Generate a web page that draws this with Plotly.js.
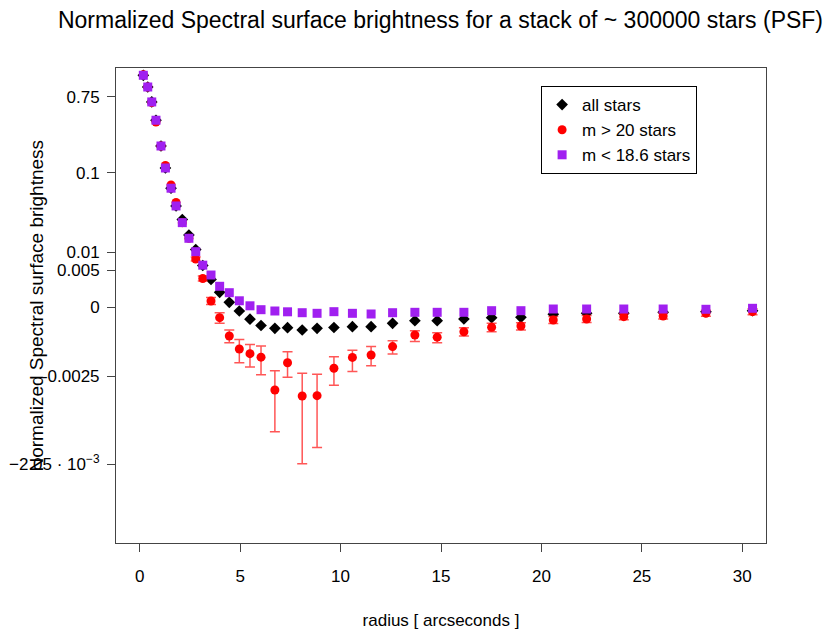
<!DOCTYPE html>
<html>
<head>
<meta charset="utf-8">
<script src="https://cdn.plot.ly/plotly-3.0.1.min.js"></script>
<style>html,body{margin:0;padding:0;background:#fff;}#chart{width:828px;height:632px;}</style>
</head>
<body>
<div id="chart"></div>
<script>
// ---- data ----
const radius = [0.18,0.40,0.60,0.81,1.06,1.28,1.56,1.81,2.12,2.45,2.79,3.14,3.55,3.98,4.46,4.96,5.49,6.04,6.73,7.36,8.09,8.83,9.67,10.59,11.52,12.59,13.70,14.81,16.14,17.52,18.98,20.59,22.25,24.10,26.06,28.19,30.51];
const allStars = [1.323,0.970,0.653,0.402,0.203,0.1133,0.0645,0.0390,0.0265,0.0169,0.0109,0.00612,0.00357,0.00184,0.000618,-0.000123,-0.000411,-0.000634,-0.000733,-0.000712,-0.000793,-0.000733,-0.000705,-0.000676,-0.000676,-0.000556,-0.000464,-0.000464,-0.000404,-0.000358,-0.000344,-0.000239,-0.000204,-0.000204,-0.000169,-0.000147,-0.000112];
const faintStars = [1.34,0.970,0.644,0.384,0.203,0.121,0.0708,0.0431,0.0242,0.0153,0.00787,0.00371,0.000773,-0.000358,-0.001008,-0.001478,-0.00165,-0.00178,-0.00286,-0.00199,-0.00302,-0.00301,-0.00220,-0.00179,-0.00170,-0.00139,-0.000972,-0.00105,-0.000854,-0.000697,-0.000651,-0.000439,-0.000404,-0.000323,-0.000299,-0.000204,-0.000147];
const faintUpper = [null,null,null,null,null,null,null,null,null,null,0.00846,0.00409,0.0012,-0.000183,-0.000793,-0.00113,-0.00131,-0.00137,-0.0023,-0.00158,-0.00239,-0.00243,-0.00176,-0.00152,-0.00139,-0.00118,-0.000818,-0.00089,-0.000712,-0.000556,-0.000535,-0.000316,-0.000281,-0.000218,-0.000193,-0.0000983,-0.0000421];
const faintLower = [null,null,null,null,null,null,null,null,null,null,0.0073,0.00335,0.000356,-0.000556,-0.00125,-0.00199,-0.00215,-0.00245,-0.00401,-0.00253,-0.00499,-0.00448,-0.00274,-0.00232,-0.0021,-0.00166,-0.00121,-0.00125,-0.001008,-0.000854,-0.000793,-0.000563,-0.000528,-0.000429,-0.000404,-0.000309,-0.000253];
const brightStars = [1.323,0.970,0.653,0.402,0.203,0.1133,0.0645,0.0390,0.0242,0.01533,0.0102,0.0062,0.00424,0.00262,0.00179,0.00080,0.000201,-0.000077,-0.000123,-0.000151,-0.000183,-0.000204,-0.000147,-0.000204,-0.000228,-0.000183,-0.000169,-0.000169,-0.000169,-0.000112,-0.000112,-0.000053,-0.000053,-0.000053,-0.000053,-0.000063,-0.000028];
const seriesNames = ["all stars","m > 20 stars","m < 18.6 stars"];
const yTickValues = [0.75,0.1,0.01,0.005,0,-0.0025,-0.005];
const yTickLabels = ["0.75","0.1","0.01","0.005","0","-0.0025","\u22122.05 \u00b7 10<sup>\u22123</sup>"];
const xTickValues = [0,5,10,15,20,25,30];

// ---- custom y scale (asinh-based, piecewise) ----
const scaleVals  = [-0.005,-0.0025,0,0.005,0.01,0.1,0.75];
const scaleUnits = [-156.5,-68.5,0,37.2,55.2,134.8,210.8];
const c0 = 0.005;
const scaleA = scaleVals.map(v => Math.asinh(v / c0));
function tf(y) {
  if (y === null || y === undefined) return NaN;
  const a = Math.asinh(y / c0);
  const n = scaleA.length;
  let i = 0;
  if (a <= scaleA[0]) i = 0;
  else if (a >= scaleA[n-1]) i = n - 2;
  else { while (i < n - 2 && a > scaleA[i+1]) i++; }
  const t = (a - scaleA[i]) / (scaleA[i+1] - scaleA[i]);
  return scaleUnits[i] + t * (scaleUnits[i+1] - scaleUnits[i]);
}

const faintT = faintStars.map(tf);
const errPlus = faintUpper.map((u, i) => u === null ? NaN : tf(u) - faintT[i]);
const errMinus = faintLower.map((l, i) => l === null ? NaN : faintT[i] - tf(l));

const font = "Liberation Sans, Arial, sans-serif";

const traces = [
  {
    x: radius, y: allStars.map(tf), name: seriesNames[0], type: "scatter", mode: "markers",
    marker: {symbol: "diamond", size: 9, color: "#000000"}
  },
  {
    x: radius, y: faintT, name: seriesNames[1], type: "scatter", mode: "markers",
    marker: {symbol: "circle", size: 9, color: "#ff0000"},
    error_y: {type: "data", symmetric: false, array: errPlus, arrayminus: errMinus,
              color: "rgba(255,30,30,0.75)", thickness: 1.5, width: 5}
  },
  {
    x: radius, y: brightStars.map(tf), name: seriesNames[2], type: "scatter", mode: "markers",
    marker: {symbol: "square", size: 9, color: "#a020f0"}
  }
];

const layout = {
  width: 828, height: 632,
  paper_bgcolor: "#ffffff", plot_bgcolor: "#ffffff",
  margin: {l: 116, r: 62, t: 68, b: 89},
  font: {family: font, size: 17, color: "#000"},
  title: {text: "Normalized Spectral surface brightness for a stack of ~ 300000 stars (PSF)",
          font: {family: font, size: 23, color: "#000"}, x: 0.532, xanchor: "center", y: 0.968, yanchor: "middle"},
  xaxis: {
    range: [-1.18, 31.18], tickvals: xTickValues, ticks: "outside", ticklen: 8, tickcolor: "#444",
    showgrid: false, zeroline: false, showline: true, linecolor: "#444", linewidth: 1, mirror: true,
    tickfont: {size: 17}, ticklabelstandoff: 10,
    title: {text: "radius [ arcseconds ]", font: {size: 17}, standoff: 28}
  },
  yaxis: {
    range: [-235.5, 239.5], tickvals: yTickValues.map(tf), ticktext: yTickLabels,
    ticks: "outside", ticklen: 8, tickcolor: "#444",
    showgrid: false, zeroline: false, showline: true, linecolor: "#444", linewidth: 1, mirror: true,
    tickfont: {size: 17}, ticklabelstandoff: 4
  },
  annotations: [{
    text: "Normalized Spectral surface brightness", textangle: -90,
    xref: "paper", yref: "paper", x: -0.123, y: 0.5, xanchor: "center", yanchor: "middle",
    showarrow: false, font: {family: font, size: 19, color: "#000"}
  }],
  showlegend: true,
  legend: {x: 0.654, y: 0.962, xanchor: "left", yanchor: "top", bordercolor: "#000", borderwidth: 1,
           bgcolor: "#fff", font: {size: 17}, tracegroupgap: 0, itemwidth: 30}
};

Plotly.newPlot("chart", traces, layout, {displayModeBar: false, staticPlot: true});
</script>
</body>
</html>
